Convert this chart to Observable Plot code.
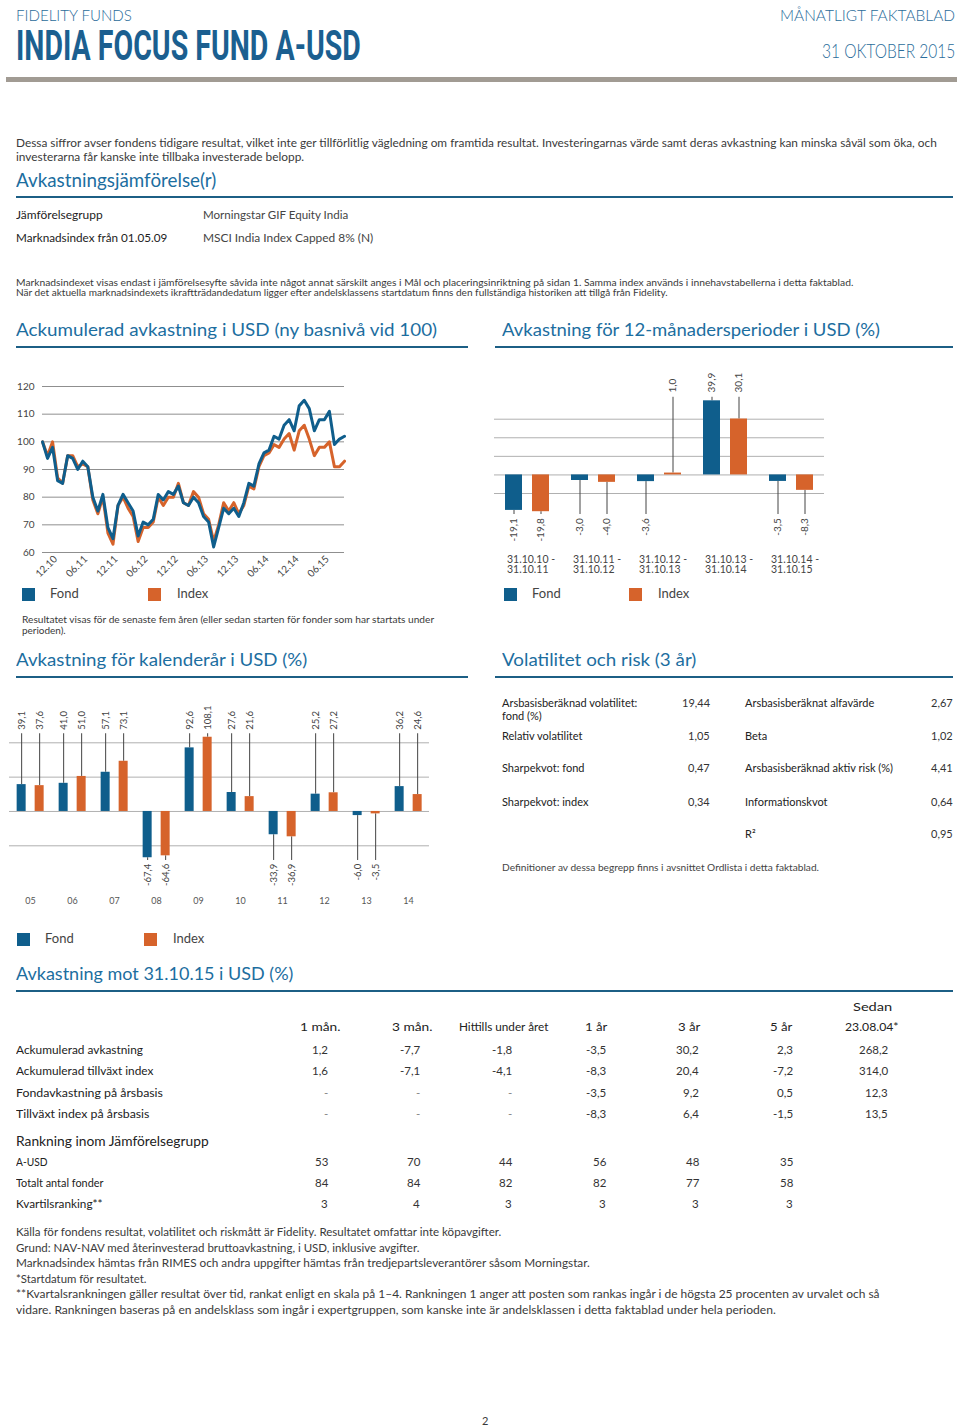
<!DOCTYPE html>
<html><head><meta charset="utf-8">
<script src="https://cdn.jsdelivr.net/npm/d3@7"></script>
<script src="https://cdn.jsdelivr.net/npm/@observablehq/plot@0.6"></script>
<style>
body{margin:0;background:#fff;}
#page{position:relative;width:960px;height:1428px;overflow:hidden;font-family:Lato,"Open Sans",sans-serif;color:#333;}
.t{position:absolute;white-space:nowrap;line-height:1;}
.r{position:absolute;}
.chart{position:absolute;}
.chart svg{overflow:visible;}
</style></head><body><div id="page"></div><script>
// ---------- DATA ----------
const SERIES = ["Fond", "Index"];
// Cumulative performance, monthly Oct 2010 .. Oct 2015 (rebased to 100)
const lineFund  = [100,94,98,86,85,95,94,90,93,91,80,75,81,69,65,77,81,78,75,66,71,70,72,81,79,82,81,84,78,77,80,78,73,71,62,69,76,74,76,73,78,85,84,92,96,97,102,101,106,108,104,113,115,112,104,108,108,111,99,101,102];
const lineIndex = [100,95,100,87,85,95,95,91,92,91,79,74,80,67,63,77,80,76,73,64,69,69,71,80,77,80,80,85,78,77,82,80,74,72,64,70,78,75,78,74,77,84,83,91,95,96,99,98,101,103,97,104,106,101,95,98,98,100,91,91,93];
const lineTickMonths = [2,8,14,20,26,32,38,44,50,56];
const lineTickLabels = ["12.10","06.11","12.11","06.12","12.12","06.13","12.13","06.14","12.14","06.15"];
const lineYTicks = [60,70,80,90,100,110,120];

// 12-month periods
const periods = ["31.10.10 -\n31.10.11","31.10.11 -\n31.10.12","31.10.12 -\n31.10.13","31.10.13 -\n31.10.14","31.10.14 -\n31.10.15"];
const periodFund  = [-19.1, -3.0, -3.6, 39.9, -3.5];
const periodIndex = [-19.8, -4.0, 1.0, 30.1, -8.3];
const periodGrid = [-10, 0, 10, 20, 30];

// Calendar years
const years = ["05","06","07","08","09","10","11","12","13","14"];
const calFund  = [39.1, 41.0, 57.1, -67.4, 92.6, 27.6, -33.9, 25.2, -6.0, 36.2];
const calIndex = [37.6, 51.0, 73.1, -64.6, 108.1, 21.6, -36.9, 27.2, -3.5, 24.6];
const calGrid = [-50, 0, 50, 100];

// Volatility & risk
const volLeftLabels = ["Arsbasisberäknad volatilitet:\nfond (%)", "Relativ volatilitet", "Sharpekvot: fond", "Sharpekvot: index"];
const volLeftValues = ["19,44", "1,05", "0,47", "0,34"];
const volRightLabels = ["Arsbasisberäknat alfavärde", "Beta", "Arsbasisberäknad aktiv risk (%)", "Informationskvot", "R²"];
const volRightValues = ["2,67", "1,02", "4,41", "0,64", "0,95"];

// Performance table
const tableCols = ["1 mån.", "3 mån.", "Hittills under året", "1 år", "3 år", "5 år"];
const perfRowLabels = ["Ackumulerad avkastning", "Ackumulerad tillväxt index", "Fondavkastning på årsbasis", "Tillväxt index på årsbasis"];
const cumFund  = [1.2, -7.7, -1.8, -3.5, 30.2, 2.3, 268.2];
const cumIndex = [1.6, -7.1, -4.1, -8.3, 20.4, -7.2, 314.0];
const annFund  = [null, null, null, -3.5, 9.2, 0.5, 12.3];
const annIndex = [null, null, null, -8.3, 6.4, -1.5, 13.5];
const rankRowLabels = ["A-USD", "Totalt antal fonder", "Kvartilsranking**"];
const rankFund  = [53, 70, 44, 56, 48, 35];
const rankTotal = [84, 84, 82, 82, 77, 58];
const rankQuart = [3, 4, 3, 3, 3, 3];

// ---------- STYLE ----------
const BLUE = "#0f5e8c", ORANGE = "#d6632b";
const HB = "#2a6c9a", TB = "#1b5f90", SB = "#1c6e9f", UL = "#1c5f85";
const GRID = "#b0b0b0";
const fmt = v => v.toFixed(1).replace(".", ",");

const page = document.getElementById("page");
const fits = [];
function T(x, y, str, o = {}) {
  const el = document.createElement("div");
  el.className = "t";
  el.textContent = str;
  const size = o.size || 11;
  el.style.fontSize = size + "px";
  el.style.top = (y - size * 0.53) + "px";
  el.style.color = o.color || "#3a3a3a";
  el.style.fontWeight = o.weight || 400;
  if (o.font) el.style.fontFamily = o.font;
  if (o.lh) { el.style.lineHeight = o.lh; }
  page.appendChild(el);
  fits.push({el, x, w: o.w, anchor: o.anchor || "start"});
  return el;
}
function R(x, y, w, h, c) {
  const el = document.createElement("div");
  el.className = "r";
  Object.assign(el.style, {left: x + "px", top: y + "px", width: w + "px", height: h + "px", background: c});
  page.appendChild(el);
}
function applyFits() {
  for (const f of fits) {
    const W = f.el.offsetWidth;
    const k = f.w ? f.w / W : 1;
    const vis = W * k;
    const left = f.anchor === "end" ? f.x - vis : f.anchor === "middle" ? f.x - vis / 2 : f.x;
    f.el.style.left = left + "px";
    f.el.style.transformOrigin = "0 50%";
    f.el.style.transform = `scaleX(${k})`;
  }
}
function place(svg, left, top) {
  const d = document.createElement("div");
  d.className = "chart";
  d.style.left = left + "px"; d.style.top = top + "px";
  d.appendChild(svg);
  page.appendChild(d);
}
function legend(x1, x2, y) {
  R(x1, y - 6.5, 13, 13, BLUE);
  T(x1 + 28, y, SERIES[0], {size: 13, color: "#444"});
  R(x2, y - 6.5, 13, 13, ORANGE);
  T(x2 + 29, y, SERIES[1], {size: 13, color: "#444"});
}

// ---------- HEADER ----------
T(16, 15, "FIDELITY FUNDS", {size: 16, color: HB, w: 116, weight: 300});
const title = T(16, 48, "INDIA FOCUS FUND A-USD", {size: 42, color: TB, w: 345, weight: 700, font: "Roboto, 'DejaVu Sans Condensed', sans-serif"});
title.style.lineHeight = "0.8";
title.style.top = (48 - 42 * 0.45) + "px";
T(955, 15, "MÅNATLIGT FAKTABLAD", {size: 16, color: HB, w: 175, anchor: "end", weight: 300});
T(955, 51, "31 OKTOBER 2015", {size: 19, color: HB, w: 133, anchor: "end", weight: 300});
R(6, 77, 951, 5, "#a19b93");

T(16, 143, "Dessa siffror avser fondens tidigare resultat, vilket inte ger tillförlitlig vägledning om framtida resultat. Investeringarnas värde samt deras avkastning kan minska såväl som öka, och", {size: 11, w: 921});
T(16, 157, "investerarna får kanske inte tillbaka investerade belopp.", {size: 11, w: 288});
T(16, 180, "Avkastningsjämförelse(r)", {size: 19, color: SB, w: 200});
R(16, 196, 937, 2, UL);
T(16, 215, "Jämförelsegrupp", {size: 11, w: 87, color: "#222"});
T(203, 215, "Morningstar GIF Equity India", {size: 11, w: 145, color: "#444"});
T(16, 238, "Marknadsindex från 01.05.09", {size: 11, w: 151, color: "#222"});
T(203, 238, "MSCI India Index Capped 8% (N)", {size: 11, w: 170, color: "#444"});
T(16, 283, "Marknadsindexet visas endast i jämförelsesyfte såvida inte något annat särskilt anges i Mål och placeringsinriktning på sidan 1. Samma index används i innehavstabellerna i detta faktablad.", {size: 9, w: 837});
T(16, 293, "När det aktuella marknadsindexets ikraftträdandedatum ligger efter andelsklassens startdatum finns den fullständiga historiken att tillgå från Fidelity.", {size: 9, w: 652});

T(16, 330, "Ackumulerad avkastning i USD (ny basnivå vid 100)", {size: 18, color: SB, w: 421});
R(16, 346, 452, 2, UL);
T(502, 330, "Avkastning för 12-månadersperioder i USD (%)", {size: 18, color: SB, w: 378});
R(495, 346, 458, 2, UL);

// ---------- LINE CHART ----------
place(Plot.plot({
  width: 350, height: 220, marginLeft: 32, marginRight: 16, marginTop: 16, marginBottom: 38,
  style: {fontFamily: "Lato, sans-serif", fontSize: "10px", color: "#444", background: "none"},
  x: {domain: [0, lineFund.length - 1]},
  y: {domain: [60, 120]},
  marks: [
    Plot.ruleY(lineYTicks, {stroke: "#8f8f8f", strokeWidth: 1}),
    Plot.axisY({ticks: lineYTicks, tickSize: 0, tickPadding: 8, label: null}),
    Plot.axisX({ticks: lineTickMonths, tickFormat: d => lineTickLabels[lineTickMonths.indexOf(d)], tickRotate: -45, tickSize: 0, tickPadding: 5, dx: 3, label: null}),
    Plot.line(lineIndex, {x: (d, i) => i, y: d => d, stroke: ORANGE, strokeWidth: 3}),
    Plot.line(lineFund, {x: (d, i) => i, y: d => d, stroke: BLUE, strokeWidth: 3})
  ]
}), 10, 370);
legend(22, 148, 594);
T(22, 620, "Resultatet visas för de senaste fem åren (eller sedan starten för fonder som har startats under", {size: 9.5, w: 412});
T(22, 631, "perioden).", {size: 9.5, w: 44});

// ---------- 12-MONTH BARS ----------
const pRows = [];
periods.forEach((p, i) => {
  pRows.push({period: p, series: SERIES[0], value: periodFund[i]});
  pRows.push({period: p, series: SERIES[1], value: periodIndex[i]});
});
place(Plot.plot({
  width: 470, height: 215, marginLeft: 2, marginRight: 135, marginTop: 0, marginBottom: 0,
  style: {fontFamily: "Lato, sans-serif", fontSize: "10px", color: "#444", background: "none"},
  fx: {domain: periods, padding: 0, axis: null},
  x: {domain: SERIES, paddingInner: 0.388, paddingOuter: 0.414, axis: null},
  y: {domain: [-10, 30], range: [123, 48.7], axis: null},
  color: {domain: SERIES, range: [BLUE, ORANGE]},
  marks: [
    Plot.ruleY(periodGrid, {stroke: GRID}),
    Plot.ruleX(pRows, {fx: "period", x: "series", y1: "value", y2: d => d.value >= 0 ? 41.8 : -21.3, stroke: "#444"}),
    Plot.barY(pRows, {fx: "period", x: "series", y: "value", fill: "series"}),
    Plot.text(pRows.filter(d => d.value >= 0), {fx: "period", x: "series", y: 44.4, text: d => fmt(d.value), rotate: -90, textAnchor: "start", fill: "#444"}),
    Plot.text(pRows.filter(d => d.value < 0), {fx: "period", x: "series", y: -23.3, text: d => fmt(d.value), rotate: -90, textAnchor: "end", fill: "#444"}),
    Plot.text(periods, {fx: d => d, x: () => SERIES[0], y: -48.2, text: d => d, textAnchor: "start", dx: -7, lineAnchor: "middle", fontSize: 10.5, fill: "#444"})
  ]
}), 490, 370);
legend(504, 629, 594);

// ---------- CALENDAR YEARS ----------
T(16, 660, "Avkastning för kalenderår i USD (%)", {size: 18, color: SB, w: 291});
R(16, 676, 452, 2, UL);
T(502, 660, "Volatilitet och risk (3 år)", {size: 18, color: SB, w: 194});
R(495, 676, 458, 2, UL);

const cRows = [];
years.forEach((y, i) => {
  cRows.push({year: y, series: SERIES[0], value: calFund[i]});
  cRows.push({year: y, series: SERIES[1], value: calIndex[i]});
});
place(Plot.plot({
  width: 480, height: 225, marginLeft: 9.35, marginRight: 50.65, marginTop: 0, marginBottom: 0,
  style: {fontFamily: "Lato, sans-serif", fontSize: "9.5px", color: "#444", background: "none"},
  fx: {domain: years, padding: 0, axis: null},
  x: {domain: SERIES, paddingInner: 0.483, paddingOuter: 0.408, axis: null},
  y: {domain: [-50, 100], range: [155.3, 52.3], axis: null},
  color: {domain: SERIES, range: [BLUE, ORANGE]},
  marks: [
    Plot.ruleY(calGrid, {stroke: GRID}),
    Plot.ruleX(cRows, {fx: "year", x: "series", y1: "value", y2: d => d.value >= 0 ? 113.2 : -71.4, stroke: "#444"}),
    Plot.barY(cRows, {fx: "year", x: "series", y: "value", fill: "series"}),
    Plot.text(cRows.filter(d => d.value >= 0), {fx: "year", x: "series", y: 119, text: d => fmt(d.value), rotate: -90, textAnchor: "start", fill: "#444"}),
    Plot.text(cRows.filter(d => d.value < 0), {fx: "year", x: "series", y: -76.2, text: d => fmt(d.value), rotate: -90, textAnchor: "end", fill: "#444"}),
    Plot.text(years, {fx: d => d, y: -131, text: d => d, fill: "#555", fontSize: 9})
  ]
}), 0, 690);
legend(17, 144, 939);

// ---------- VOLATILITY ----------
const volLeftY = [703, 736, 768, 802];
volLeftLabels.forEach((s, i) => {
  s.split("\n").forEach((line, j) => T(502, volLeftY[i] + j * 13, line, {size: 11, color: "#222"}));
  T(710, volLeftY[i], volLeftValues[i], {size: 11, color: "#333", anchor: "end"});
});
const volRightY = [703, 736, 768, 802, 834];
volRightLabels.forEach((s, i) => {
  T(745, volRightY[i], s, {size: 11, color: "#222"});
  T(953, volRightY[i], volRightValues[i], {size: 11, color: "#333", anchor: "end"});
});
T(502, 868, "Definitioner av dessa begrepp finns i avsnittet Ordlista i detta faktablad.", {size: 9.5, w: 317, color: "#444"});

// ---------- PERFORMANCE TABLE ----------
T(16, 974, "Avkastning mot 31.10.15 i USD (%)", {size: 18, color: SB, w: 277});
R(16, 990, 937, 2, UL);
const colCenters = [320, 412, 503, 596, 689, 781];
const colRight = [328, 420, 512, 606, 699, 793, 888];
const headW = [40, 40, 89, 22, 22, 22];
tableCols.forEach((c, i) => T(colCenters[i], 1027, c, {size: 12, color: "#222", anchor: "middle", w: headW[i]}));
T(872, 1007, "Sedan", {size: 12, color: "#222", anchor: "middle", w: 39});
T(872, 1027, "23.08.04*", {size: 12, color: "#222", anchor: "middle", w: 54});
const perfRowW = [127, 137, 147, 133];
const perfRowY = [1050, 1071, 1093, 1114];
[cumFund, cumIndex, annFund, annIndex].forEach((row, r) => {
  T(16, perfRowY[r], perfRowLabels[r], {size: 11.5, color: "#222", w: perfRowW[r]});
  row.forEach((v, i) => T(colRight[i], perfRowY[r], v === null ? "-" : fmt(v), {size: 11.5, color: v === null ? "#888" : "#333", anchor: "end"}));
});
T(16, 1141, "Rankning inom Jämförelsegrupp", {size: 14, color: "#222", w: 193});
const rankRowW = [32, 87, 87];
const rankRowY = [1162, 1183, 1204];
[rankFund, rankTotal, rankQuart].forEach((row, r) => {
  T(16, rankRowY[r], rankRowLabels[r], {size: 11.5, color: "#222", w: rankRowW[r]});
  row.forEach((v, i) => T(colRight[i], rankRowY[r], String(v), {size: 11.5, color: "#333", anchor: "end"}));
});

// ---------- FOOTER ----------
T(16, 1232, "Källa för fondens resultat, volatilitet och riskmått är Fidelity. Resultatet omfattar inte köpavgifter.", {size: 11, w: 485});
T(16, 1248, "Grund: NAV-NAV med återinvesterad bruttoavkastning, i USD, inklusive avgifter.", {size: 11, w: 403});
T(16, 1263, "Marknadsindex hämtas från RIMES och andra uppgifter hämtas från tredjepartsleverantörer såsom Morningstar.", {size: 11, w: 574});
T(16, 1279, "*Startdatum för resultatet.", {size: 11, w: 130});
T(16, 1294, "**Kvartalsrankningen gäller resultat över tid, rankat enligt en skala på 1–4. Rankningen 1 anger att posten som rankas ingår i de högsta 25 procenten av urvalet och så", {size: 11, w: 863});
T(16, 1310, "vidare. Rankningen baseras på en andelsklass som ingår i expertgruppen, som kanske inte är andelsklassen i detta faktablad under hela perioden.", {size: 11, w: 760});
T(485, 1421, "2", {size: 11, anchor: "middle"});

applyFits();
if (document.fonts && document.fonts.ready) document.fonts.ready.then(applyFits);
</script></body></html>
